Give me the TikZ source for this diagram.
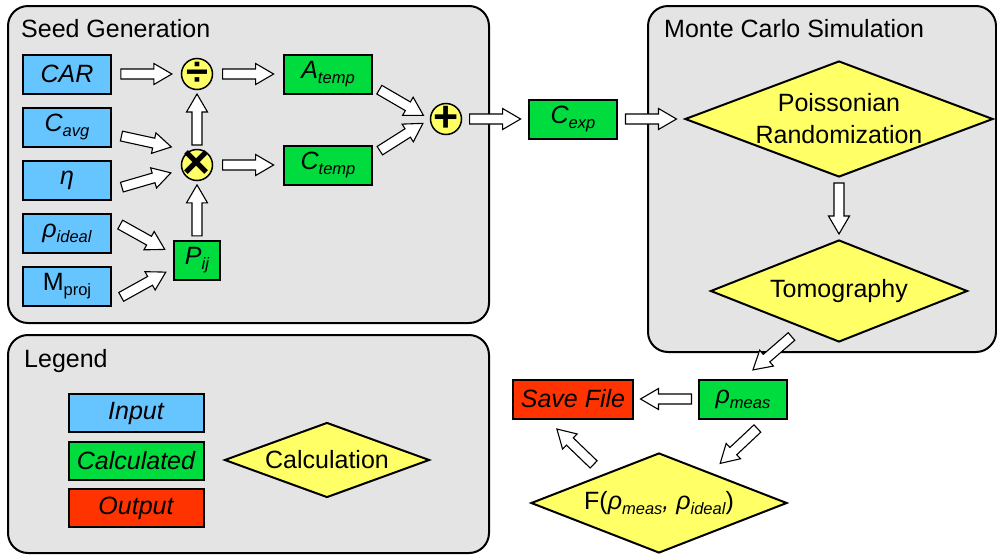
\documentclass[tikz,border=0pt]{standalone}
\usepackage{fontspec}
\setmainfont{Liberation Sans}
\usepackage{tikz}
\usetikzlibrary{calc}
\usetikzlibrary{shapes.geometric}
\usepackage{xcolor}
\definecolor{panelgray}{HTML}{E4E4E4}
\definecolor{inblue}{HTML}{66C4FF}
\definecolor{calcgreen}{HTML}{00DB3D}
\definecolor{outred}{HTML}{FF3300}
\definecolor{opyellow}{HTML}{FFFF66}
\newcommand{\bigfont}{\fontsize{25}{32}\selectfont}
\newcommand{\idx}[1]{\raisebox{-5pt}{\fontsize{16.5}{18}\selectfont #1}}
\tikzstyle{panel}=[draw,line width=2,fill=panelgray,rounded corners=20]
\tikzstyle{var}=[draw,line width=2,inner sep=0,minimum width=88,minimum height=39,font=\bigfont\itshape]
\tikzstyle{input}=[var,fill=inblue]
\tikzstyle{calcd}=[var,fill=calcgreen]
\tikzstyle{output}=[var,fill=outred]
\tikzstyle{op}=[circle,draw,line width=1.5,fill=opyellow,minimum size=31,inner sep=0]
\tikzstyle{calcstep}=[diamond,draw,line width=2,fill=opyellow,inner sep=0]
\tikzstyle{flow}=[draw,line width=1.1,fill=white]

% hollow block arrow, 51 long, centred between two points
\newcommand{\barrow}[2]{%
  \draw[flow] let \p1=(#1), \p2=(#2), \p3=($(\p1)!0.5!(\p2)$),
      \p4=($(\p3)!25.5pt!(\p2)$), \p5=($(\p3)!25.5pt!(\p1)$), \p6=($(\p3)!7.5pt!(\p2)$) in
    ($(\p5)!5pt!90:(\p4)$) -- ($(\p6)!5pt!90:(\p4)$) -- ($(\p6)!10.5pt!90:(\p4)$) -- (\p4)
    -- ($(\p6)!10.5pt!-90:(\p4)$) -- ($(\p6)!5pt!-90:(\p4)$) -- ($(\p5)!5pt!-90:(\p4)$) -- cycle;}

\begin{document}
\begin{tikzpicture}[x=1pt,y=-1pt,font=\bigfont]
    \useasboundingbox (0,0) rectangle (997,555);

    % the three panels
    \draw[panel] (8,6) rectangle (489,323);
    \draw[panel] (648,6) rectangle (996,352);
    \draw[panel] (8,335) rectangle (489,553);
    \node[anchor=base west,inner sep=0] (seedtitle) at (21,37) {Seed Generation};
    \node[anchor=base west,inner sep=0] (mctitle) at (664,37) {Monte Carlo Simulation};
    \node[anchor=base west,inner sep=0] (legtitle) at (24,367) {Legend};

    % seed generation
    \node[input] (car) at (67,74) {CAR};
    \node[input] (cavg) at (67,127) {C\idx{avg}};
    \node[input] (eta) at (67,180) {η};
    \node[input] (rhoid) at (67,233) {ρ\idx{ideal}};
    \node[input,font=\bigfont] (mproj) at (67,286) {M\idx{proj}};

    \node[op,label={[name=divsym,font=\fontsize{40}{40}\selectfont\bfseries]center:÷}] (div) at (197,74) {};
    \node[op,label={[name=mulsym,font=\fontsize{48}{48}\selectfont\bfseries]center:×}] (mul) at (197,165) {};
    \node[op,label={[name=plussym,font=\fontsize{43}{43}\selectfont\bfseries]center:+}] (plus) at (446,119) {};

    \node[calcd,minimum width=46] (pij) at (197,260) {P\idx{ij}};
    \node[calcd] (atemp) at (328,74) {A\idx{temp}};
    \node[calcd] (ctemp) at (328,165) {C\idx{temp}};
    \node[calcd] (cexp) at (573,119) {C\idx{exp}};

    % monte carlo part
    \node[calcstep,minimum width=308,minimum height=116,
          label={[name=poissontext,align=center]center:Poissonian\\Randomization}] (poisson) at (839,119) {};
    \node[calcstep,minimum width=257,minimum height=102,aspect=2.52] (tomo) at (839,291) {Tomography};
    \node[calcd] (rhomeas) at (743,399) {ρ\idx{meas}};
    \node[output,minimum width=120] (save) at (573,399) {Save File};
    \node[calcstep,minimum width=256,minimum height=100,aspect=2.56] (fid) at (659,503)
        {F(\textit{ρ}\idx{\itshape meas}\textit{,} \textit{ρ}\idx{\itshape ideal})};

    % legend
    \node[input,minimum width=135,minimum height=38] (leginput) at (136,413) {Input};
    \node[calcd,minimum width=135,minimum height=38] (legcalcd) at (136,461) {Calculated};
    \node[output,minimum width=135,minimum height=38] (legout) at (136,508) {Output};
    \node[calcstep,minimum width=205,minimum height=75,aspect=2.73] (legcalc) at (327,460) {Calculation};

    % arrows
    \barrow{car.east}{div.west}
    \barrow{$(cavg.east)+(0,7)$}{$(mul.west)+(0,-16)$}
    \barrow{$(eta.east)+(0,10)$}{$(mul.west)+(0,5)$}
    \barrow{$(rhoid.east)+(0,-13)$}{$(pij.west)+(0,-6)$}
    \barrow{$(mproj.east)+(0,16)$}{$(pij.west)+(2,7)$}
    \barrow{pij.north}{mul.south}
    \barrow{mul.north}{div.south}
    \barrow{div.east}{atemp.west}
    \barrow{mul.east}{ctemp.west}
    \barrow{$(atemp.east)+(0,12)$}{plus.west}
    \barrow{$(ctemp.east)+(0,-10)$}{plus.west}
    \barrow{plus.east}{cexp.west}
    \barrow{cexp.east}{poisson.west}
    \barrow{poisson.south}{tomo.north}
    \barrow{$(tomo.south)!0.29!(tomo.west)$}{rhomeas.north}
    \barrow{rhomeas.west}{save.east}
    \barrow{$(rhomeas.south)+(24,0)$}{$(fid.north)!0.4!(fid.east)$}
    \barrow{$(fid.north)!0.43!(fid.west)$}{$(save.south)+(-26,0)$}

\end{tikzpicture}
\end{document}
